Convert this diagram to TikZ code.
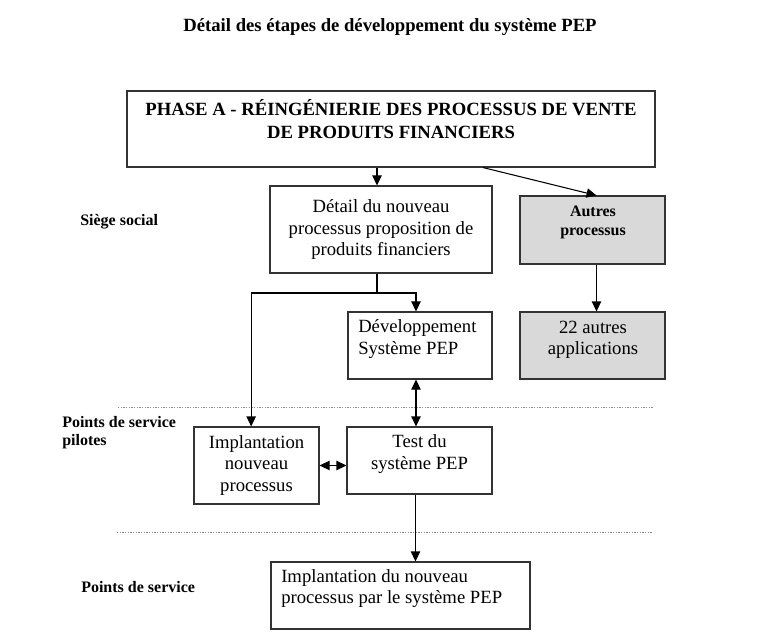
\documentclass[tikz,border=0pt]{standalone}
\usepackage{fontspec}
\setmainfont{Liberation Serif}
\usetikzlibrary{arrows.meta}

\begin{document}
\begin{tikzpicture}[x=0.75pt, y=-0.75pt,
	box/.style={draw=black!80, line width=0.8pt, inner sep=0pt},
	grisbox/.style={box, fill=black!15},
	txt/.style={font=\fontsize{14}{16}\selectfont, align=center, inner sep=0pt},
	gras/.style={font=\fontsize{12}{14}\selectfont\bfseries, align=left, inner sep=0pt},
	fleche/.style={draw=black, line width=0.8pt, -{Triangle[length=7.5pt, width=7pt]}},
	fleches/.style={draw=black, line width=0.8pt, {Triangle[length=7.5pt, width=7pt]}-{Triangle[length=7.5pt, width=7pt]}},
	sep/.style={draw=black!45, line width=0.6pt, dash pattern=on 1pt off 1pt}]
	\useasboundingbox (0,0) rectangle (765,635);

	% titre
	\node[font=\fontsize{14}{16}\selectfont\bfseries, inner sep=0pt] (titre) at (390,27) {Détail des étapes de développement du système PEP};

	% siege social
	\node[box, minimum width=396pt, minimum height=57pt] (phase) at (391,129) {};
	\node[txt, font=\fontsize{14}{17}\selectfont\bfseries] (phasetxt) at (391,119) {PHASE A - RÉINGÉNIERIE DES PROCESSUS DE VENTE\\DE PRODUITS FINANCIERS};
	\node[box, txt, minimum width=166.5pt, minimum height=65.25pt] (detail) at (381,229.5) {Détail du nouveau\\processus proposition de\\produits financiers};
	\node[grisbox, minimum width=108.75pt, minimum height=51pt] (autres) at (592.5,230) {};
	\node[gras, align=center] (autrestxt) at (593,222.5) {Autres\\processus};
	\node[grisbox, minimum width=108.75pt, minimum height=50.25pt] (applis) at (592.5,345.5) {};
	\node[txt] (applistxt) at (593,340) {22 autres\\applications};
	\node[box, minimum width=108pt, minimum height=50.25pt] (dev) at (420,345.5) {};
	\node[txt, align=left, anchor=west] (devtxt) at (358,339) {Développement\\Système PEP};

	% points de service pilotes
	\node[box, txt, minimum width=93.75pt, minimum height=57.75pt] (impl) at (256.5,465.5) {Implantation\\nouveau\\processus};
	\node[box, minimum width=108.75pt, minimum height=50.25pt] (test) at (419.5,460.5) {};
	\node[txt] (testtxt) at (419.5,454) {Test du\\système PEP};

	% points de service
	\node[box, minimum width=194.25pt, minimum height=50.25pt] (final) at (400.5,595.5) {};
	\node[txt, align=left, anchor=west] (finaltxt) at (281,588.5) {Implantation du nouveau\\processus par le système PEP};

	% etiquettes
	\node[gras, anchor=west] (siege) at (80,222) {Siège social};
	\node[gras, anchor=west] (pilotes) at (62,432.5) {Points de service\\pilotes};
	\node[gras, anchor=west] (service) at (81,587) {Points de service};

	% separations
	\draw[sep] (118,407) -- (653,407);
	\draw[sep] (117,532) -- (653,532);

	% fleches
	\draw[fleche] ([xshift=-3pt]detail.north |- phase.south) -- ([xshift=-3pt]detail.north);
	\draw[fleche] ([xshift=69pt]phase.south) -- ([xshift=3pt]autres.north);
	\draw[fleche] ([xshift=3pt]autres.south) -- ([xshift=3pt]applis.north);
	\coordinate (split) at (377,293);
	\draw[line width=0.8pt] ([xshift=-3pt]detail.south) -- (split);
	\draw[fleche] (split) -| ([xshift=-4pt]impl.north);
	\draw[fleche] (split) -| ([xshift=-3pt]dev.north);
	\draw[fleches] ([xshift=-3pt]dev.south) -- ([xshift=-3pt]dev.south |- test.north);
	\draw[fleches] (impl.east) -- (impl.east -| test.west);
	\draw[fleche] ([xshift=-3pt]test.south) -- ([xshift=-3pt]test.south |- final.north);
\end{tikzpicture}
\end{document}
